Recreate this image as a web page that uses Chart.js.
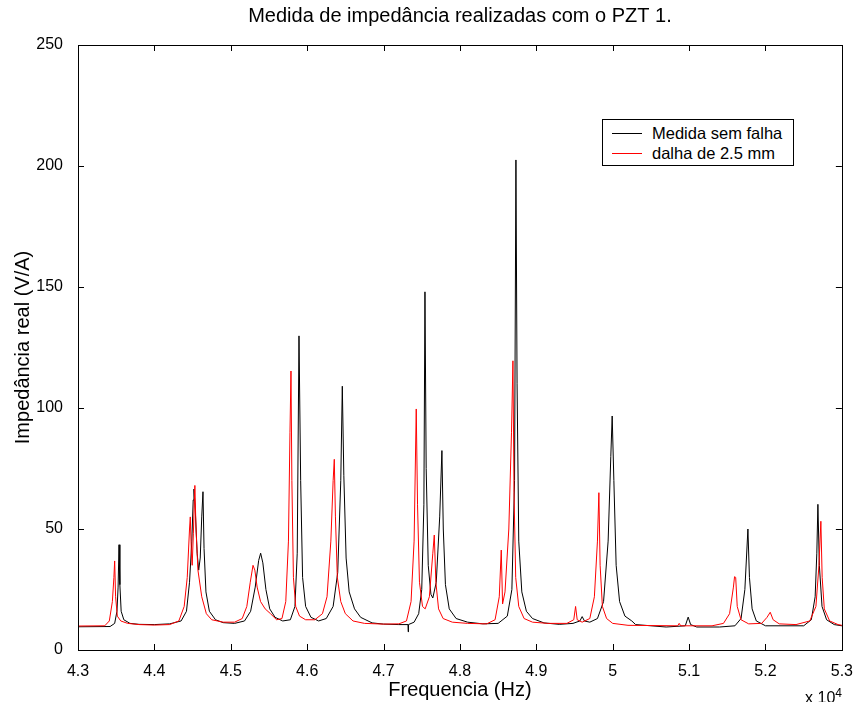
<!DOCTYPE html>
<html lang="pt">
<head>
<meta charset="utf-8">
<title>Medida de impedância realizadas com o PZT 1.</title>
<script src="https://cdn.jsdelivr.net/npm/chart.js@4.4.1/dist/chart.umd.min.js"></script>
<style>
  body { margin: 0; background: #fff; }
  .wrap { position: relative; width: 857px; height: 702px; font-family: "Liberation Sans", Arial, sans-serif; color: #000; }
  .legend { position: absolute; left: 602px; top: 119px; width: 190px; height: 45px; border: 1px solid #000; background: #fff; }
  .legend-row { position: absolute; left: 0; height: 20px; display: flex; align-items: center; font-size: 16.5px; white-space: nowrap; }
  .legend-line { display: inline-block; width: 30px; height: 0; border-top: 1px solid; margin: 0 10px 0 9px; }
  .exp { position: absolute; right: 15px; top: 684px; font-size: 16px; line-height: 18px; }
  .exp sup { font-size: 12px; }
</style>
</head>
<body>
<div class="wrap">
  <canvas class="js-impedance" width="857" height="702"></canvas>
  <div class="legend js-legend"></div>
  <div class="exp">x 10<sup>4</sup></div>
</div>
<script>
// frequencia (Hz) e impedancia real (V/A)
const semFalhaFreq = [
  43000, 43420, 43480, 43510, 43525, 43537, 43548, 43565, 43600, 43680, 43800, 44000, 44200, 44350, 44420, 44460,
  44490, 44508, 44518, 44535, 44560, 44580, 44600, 44620, 44636, 44650, 44675, 44720, 44800, 44900, 45050, 45180,
  45260, 45320, 45365, 45391, 45420, 45460, 45510, 45580, 45680, 45780, 45840, 45870, 45893, 45915, 45940, 45980,
  46050, 46150, 46250, 46340, 46400, 46440, 46460, 46480, 46510, 46550, 46620, 46700, 46850, 47000, 47200, 47320,
  47323, 47326, 47400, 47460, 47500, 47528, 47542, 47558, 47585, 47620, 47645, 47690, 47735, 47764, 47782, 47810,
  47860, 47950, 48100, 48300, 48500, 48620, 48680, 48715, 48733, 48748, 48770, 48810, 48870, 48950, 49100, 49300,
  49480, 49570, 49600, 49630, 49700, 49800, 49880, 49940, 49975, 49993, 50015, 50045, 50090, 50160, 50250, 50300,
  50700, 50950, 50988, 51020, 51100, 51400, 51600, 51680, 51730, 51770, 51790, 51825, 51880, 52000, 52500, 52600,
  52650, 52672, 52686, 52705, 52740, 52800, 52900, 53000
];
const semFalhaImp = [
  9.6, 9.7, 11, 16, 26, 43.5, 27, 16, 12.5, 11, 10.6, 10.5, 10.8, 12, 16, 28,
  45, 62, 66.5, 58, 40, 33, 38, 55, 65.4, 42, 24, 16, 12.5, 11.3, 11, 12,
  16, 26, 37, 40, 36, 25, 17, 13.5, 12, 12.5, 18, 40, 129.8, 70, 30, 18,
  13.5, 12, 13, 18, 32, 70, 109, 72, 38, 24, 17, 13.5, 11.2, 10.7, 10.5, 10.5,
  7.5, 10.5, 11.5, 15, 25, 60, 148, 75, 35, 23, 21.5, 28, 55, 82.4, 50, 27,
  17, 13, 11.5, 10.8, 11, 14, 25, 70, 202.5, 110, 45, 24, 16, 13, 11.2, 10.6,
  11, 12, 13.8, 12, 11.5, 13, 20, 45, 80, 96.7, 70, 35, 20, 14, 12, 10.5,
  9.5, 10, 13.6, 10.5, 9.5, 9.5, 10, 13, 25, 50, 30, 17, 12, 10, 10, 12.5,
  22, 40, 60.2, 35, 18, 12.5, 10.5, 10
];

const falhaFreq = [
  43000, 43350, 43410, 43450, 43470, 43480, 43492, 43515, 43560, 43650, 43800, 44000, 44200, 44320, 44390, 44430,
  44460, 44470, 44485, 44495, 44510, 44530, 44545, 44570, 44620, 44680, 44750, 44900, 45050, 45150, 45210, 45255,
  45291, 45315, 45345, 45390, 45450, 45520, 45600, 45670, 45720, 45755, 45775, 45788, 45800, 45820, 45850, 45900,
  45980, 46100, 46200, 46260, 46310, 46340, 46355, 46370, 46395, 46440, 46500, 46600, 46750, 47000, 47200, 47300,
  47360, 47400, 47428, 47445, 47470, 47510, 47545, 47600, 47645, 47664, 47685, 47720, 47780, 47900, 48100, 48350,
  48460, 48515, 48541, 48558, 48590, 48640, 48675, 48694, 48708, 48730, 48770, 48840, 48950, 49150, 49400, 49490,
  49514, 49535, 49600, 49700, 49760, 49800, 49819, 49835, 49865, 49920, 50000, 50200, 50850, 50870, 50890, 51300,
  51450, 51530, 51580, 51595, 51610, 51630, 51680, 51780, 51950, 52020, 52062, 52100, 52180, 52400, 52580, 52660,
  52700, 52725, 52742, 52770, 52840, 52950, 53000
];
const falhaImp = [
  9.9, 10, 12, 20, 30, 36.8, 22, 14, 12, 11, 10.5, 10.3, 10.5, 12, 18, 30,
  50, 55, 40, 35, 48, 68, 50, 33, 22, 15, 12.5, 11.5, 11.5, 13, 18, 28,
  35, 33, 26, 20, 17, 15, 12.5, 13, 20, 45, 90, 115.3, 70, 30, 18, 14,
  12.5, 12.5, 15, 22, 45, 70, 78.8, 55, 30, 20, 15, 12, 11, 10.7, 10.8, 12,
  20, 45, 99.6, 60, 28, 18, 17, 22, 40, 47.5, 28, 17, 13, 11.5, 11, 10.8,
  12.5, 22, 41.3, 19, 24, 50, 90, 119.5, 65, 30, 18, 13, 11.5, 11, 11, 12.5,
  18, 12.5, 11.5, 13, 22, 45, 65, 35, 18, 13, 11, 10.2, 10, 11, 10, 10,
  11, 15, 26, 30.3, 30, 18, 12.5, 10.8, 11, 13.5, 15.6, 12.5, 10.8, 10.5, 12, 18,
  35, 53.2, 30, 17, 12, 10.5, 10.2
];

const xTickLabels = ["4.3", "4.4", "4.5", "4.6", "4.7", "4.8", "4.9", "5", "5.1", "5.2", "5.3"];
const seriesNames = ["Medida sem falha", "dalha de 2.5 mm"];
const chartTitle = "Medida de impedância realizadas com o PZT 1.";

const fontFamily = '"Liberation Sans", Arial, sans-serif';

const toPoints = (xs, ys) => xs.map((x, i) => ({ x: x, y: ys[i] }));

// titulo centrado sobre a area do grafico (como no matlab)
const plotTitle = {
  id: "plotTitle",
  afterDraw(chart) {
    const { ctx, chartArea: a } = chart;
    ctx.save();
    ctx.fillStyle = "#000";
    ctx.font = "20px " + fontFamily;
    ctx.textAlign = "center";
    ctx.textBaseline = "middle";
    ctx.fillText(chartTitle, (a.left + a.right) / 2, 16);
    ctx.restore();
  },
};

// moldura estilo matlab com ticks para dentro
const frameTicks = {
  id: "frameTicks",
  afterDatasetsDraw(chart) {
    const { ctx, chartArea: a, scales } = chart;
    const len = 6;
    ctx.save();
    ctx.strokeStyle = "#000";
    ctx.lineWidth = 1;
    ctx.beginPath();
    scales.x.ticks.forEach((t) => {
      const px = Math.round(scales.x.getPixelForValue(t.value)) + 0.5;
      ctx.moveTo(px, a.bottom);
      ctx.lineTo(px, a.bottom - len);
      ctx.moveTo(px, a.top);
      ctx.lineTo(px, a.top + len);
    });
    scales.y.ticks.forEach((t) => {
      const py = Math.round(scales.y.getPixelForValue(t.value)) + 0.5;
      ctx.moveTo(a.left, py);
      ctx.lineTo(a.left + len, py);
      ctx.moveTo(a.right, py);
      ctx.lineTo(a.right - len, py);
    });
    ctx.stroke();
    ctx.strokeRect(Math.round(a.left) + 0.5, Math.round(a.top) + 0.5, Math.round(a.right - a.left), Math.round(a.bottom - a.top));
    ctx.restore();
  },
};

const buildLegend = function (chart) {
  const box = document.querySelector(".js-legend");
  chart.data.datasets.forEach((ds, i) => {
    const row = document.createElement("div");
    row.className = "legend-row";
    row.style.top = 3 + i * 20.6 + "px";
    const line = document.createElement("span");
    line.className = "legend-line";
    line.style.borderColor = ds.borderColor;
    row.appendChild(line);
    row.appendChild(document.createTextNode(ds.label));
    box.appendChild(row);
  });
};

const chartImpedance = function () {
  const canvas = document.querySelector(".js-impedance");
  Chart.defaults.color = "#000";
  Chart.defaults.font.family = fontFamily;

  const chart = new Chart(canvas, {
    type: "scatter",
    data: {
      datasets: [
        {
          label: seriesNames[0],
          data: toPoints(semFalhaFreq, semFalhaImp),
          showLine: true,
          borderColor: "#000000",
          borderWidth: 1,
          pointRadius: 0,
          order: 1,
        },
        {
          label: seriesNames[1],
          data: toPoints(falhaFreq, falhaImp),
          showLine: true,
          borderColor: "#ff0000",
          borderWidth: 1,
          pointRadius: 0,
          order: 0,
        },
      ],
    },
    options: {
      responsive: false,
      animation: false,
      layout: { padding: { left: 0, right: 15, top: 45, bottom: 0 } },
      scales: {
        x: {
          type: "linear",
          min: 43000,
          max: 53000,
          grid: { display: false },
          border: { display: false },
          ticks: {
            stepSize: 1000,
            padding: 4,
            maxRotation: 0,
            font: { size: 16 },
            callback: (value, index) => xTickLabels[index],
          },
          title: { display: true, text: "Frequencia (Hz)", font: { size: 20 }, padding: { top: 0, bottom: 0 } },
          afterFit: (scale) => { scale.height = 52; },
        },
        y: {
          min: 0,
          max: 250,
          grid: { display: false },
          border: { display: false },
          ticks: { stepSize: 50, padding: 7, font: { size: 16 } },
          title: { display: true, text: "Impedância real (V/A)", font: { size: 20 }, padding: { top: 11, bottom: 0 } },
          afterFit: (scale) => { scale.width = 78; },
        },
      },
      plugins: {
        legend: { display: false },
        tooltip: { enabled: false },
        title: { display: false },
      },
    },
    plugins: [frameTicks, plotTitle],
  });

  buildLegend(chart);
};

const init = function () {
  if (document.querySelector(".js-impedance")) {
    chartImpedance();
  }
};

document.addEventListener("DOMContentLoaded", init);
</script>
</body>
</html>
